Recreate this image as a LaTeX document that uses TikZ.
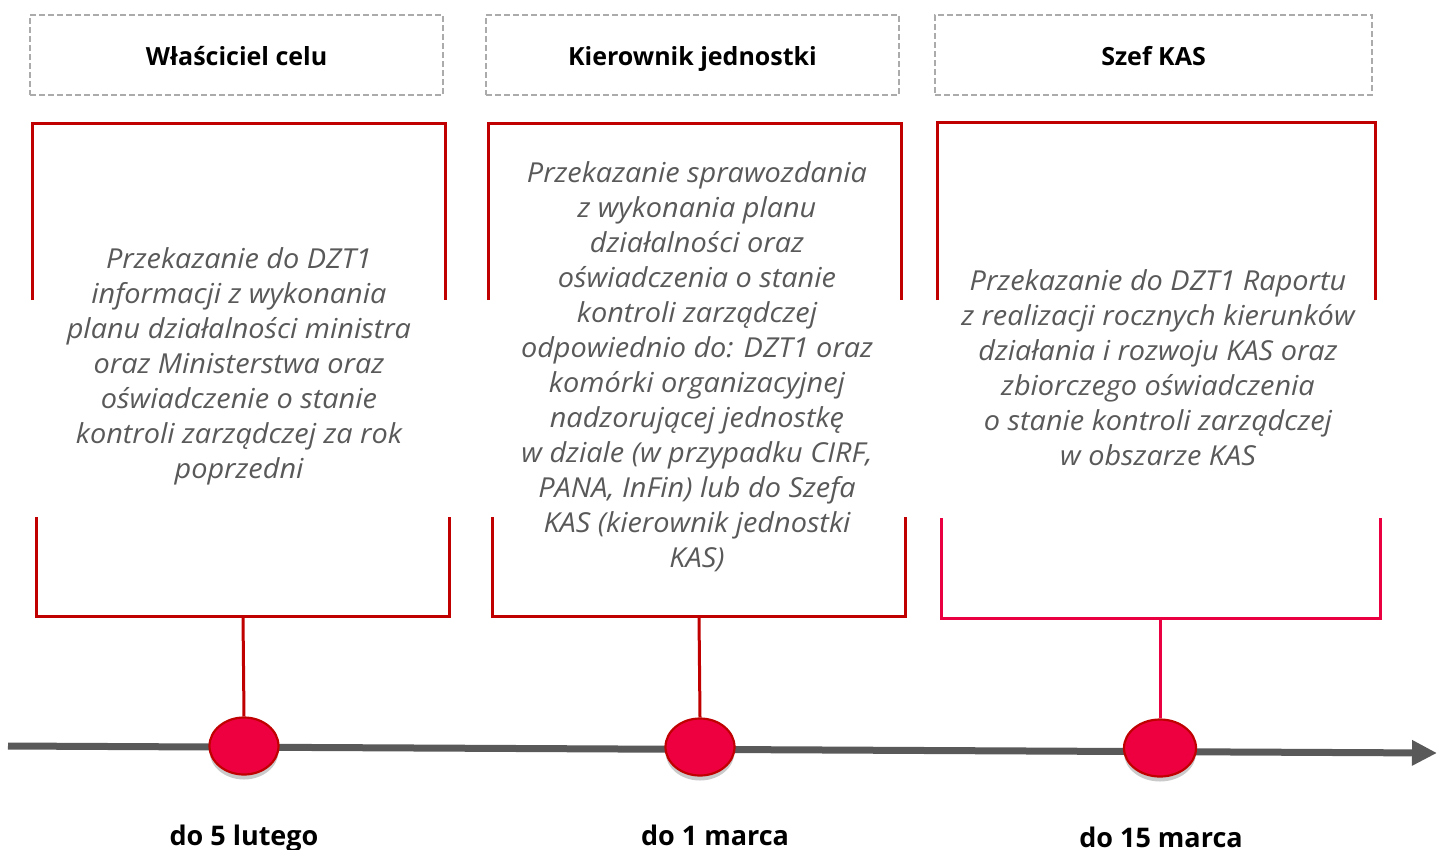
\documentclass[tikz,border=0pt]{standalone}
\usepackage{fontspec}
\setmainfont{Open Sans}
\newfontfamily\bodyfont{Open Sans}[FakeStretch=1.05]
\usetikzlibrary{shadows,arrows.meta,shapes.geometric}
\definecolor{brred}{HTML}{C00000}
\definecolor{brpink}{HTML}{EA0040}
\definecolor{dotfill}{HTML}{EE0040}
\definecolor{txtgray}{HTML}{595959}
\definecolor{dashgray}{HTML}{ABABAB}
\definecolor{linegray}{HTML}{595959}
\tikzset{
  headbox/.style={draw=dashgray, line width=2pt, dash pattern=on 6pt off 3pt,
    minimum width=#1, minimum height=80pt, inner sep=0pt, text height=20pt, text depth=0pt,
    font=\bfseries\fontsize{25}{30}\selectfont, text=black},
  bodytext/.style={align=center, text=txtgray, inner sep=0pt,
    font=\bodyfont\itshape\fontsize{27.5}{35}\selectfont},
  bracket/.style={draw=brred, line width=3pt},
  dot/.style={ellipse, draw=brred, line width=2.2pt, fill=dotfill,
    minimum width=69pt, minimum height=57pt, inner sep=0pt,
    drop shadow={shadow xshift=0pt, shadow yshift=-5pt, opacity=0.35, fill=black!60}},
  datetext/.style={font=\bfseries\fontsize{27}{32}\selectfont, text=black, inner sep=0pt, anchor=base},
}
\begin{document}
\begin{tikzpicture}[x=1pt,y=-1pt]
\useasboundingbox (0,0) rectangle (1437,849);
% headers
\node[headbox=413pt] (h1) at (236.5,55) {Właściciel celu};
\node[headbox=413pt] (h2) at (692.5,55) {Kierownik jednostki};
\node[headbox=437pt] (h3) at (1153.5,55) {Szef KAS};
% brackets top parts
\draw[bracket] (32,300) -- (32,123) -- (445,123) -- (445,300);
\draw[bracket] (488,300) -- (488,123) -- (901,123) -- (901,300);
\draw[bracket] (937,300) -- (937,122) -- (1375,122) -- (1375,300);
% brackets bottom parts
\draw[bracket] (36,517) -- (36,616) -- (449,616) -- (449,517);
\draw[bracket] (492,517) -- (492,616) -- (905,616) -- (905,517);
\draw[bracket, draw=brpink] (941,518) -- (941,618) -- (1380,618) -- (1380,518);
\coordinate (s1) at (243,616);
\coordinate (s2) at (699,616);
\coordinate (s3) at (1160,618);
% texts
\node[bodytext] (t1) at (239,366) {Przekazanie do DZT1\\informacji z wykonania\\planu działalności ministra\\oraz Ministerstwa oraz\\oświadczenie o stanie\\kontroli zarządczej za rok\\poprzedni};
\node[bodytext] (t2) at (697,366.5) {Przekazanie sprawozdania\\z wykonania planu\\działalności oraz\\oświadczenia o stanie\\kontroli zarządczej\\odpowiednio do: DZT1 oraz\\komórki organizacyjnej\\nadzorującej jednostkę\\w dziale (w przypadku CIRF,\\PANA, InFin) lub do Szefa\\KAS (kierownik jednostki\\KAS)};
\node[bodytext] (t3) at (1158,367.5) {Przekazanie do DZT1 Raportu\\z realizacji rocznych kierunków\\działania i rozwoju KAS oraz\\zbiorczego oświadczenia\\o stanie kontroli zarządczej\\w obszarze KAS};
% timeline
\coordinate (tl0) at (8,746);
\coordinate (tl1) at (1437,753);
\draw[linegray, line width=7pt, -{Triangle[length=25pt,width=24pt]}] (tl0) -- (tl1);
% dots
\node[dot] (d1) at (244,746) {};
\node[dot] (d2) at (700,747) {};
\node[dot, minimum width=72pt] (d3) at (1160,748) {};
% stems
\draw[bracket] (s1) -- (d1.north);
\draw[bracket] (s2) -- (d2.north);
\draw[bracket, draw=brpink] (s3) -- (d3.north);
% dates
\node[datetext] (dt1) at (244,845) {do 5 lutego};
\node[datetext] (dt2) at (715,845) {do 1 marca};
\node[datetext] (dt3) at (1161,847) {do 15 marca};
\end{tikzpicture}
\end{document}
